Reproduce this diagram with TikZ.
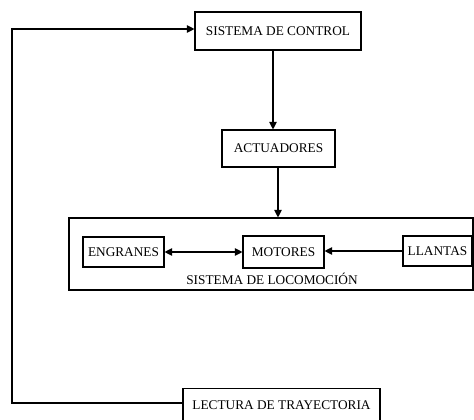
\documentclass[tikz,border=0pt]{standalone}
\usepackage{fontspec}
\setmainfont{Liberation Serif}
\usetikzlibrary{arrows.meta}
\begin{document}
\begin{tikzpicture}[x=1pt,y=-1pt,
  box/.style={draw,line width=1.1pt,inner sep=0pt,font=\fontsize{13.3}{15}\selectfont},
  arr/.style={line width=1.1pt,-{Triangle[length=7.5pt,width=7.5pt]}},
  darr/.style={line width=1.1pt,{Triangle[length=7.5pt,width=7.5pt]}-{Triangle[length=7.5pt,width=7.5pt]}},
  lbl/.style={font=\fontsize{13.3}{15}\selectfont,inner sep=0pt}]
\useasboundingbox (0,0) rectangle (474,420);
\fill[white] (0,0) rectangle (474,420);
\node[box,minimum width=166pt,minimum height=38pt] (ctrl) at (278,31) {SISTEMA DE CONTROL};
\node[box,minimum width=113pt,minimum height=37pt] (act) at (278.5,148.5) {ACTUADORES};
\node[box,minimum width=404pt,minimum height=72pt] (loco) at (271,254) {};
\node[box,minimum width=81pt,minimum height=30pt] (eng) at (123.5,252) {ENGRANES};
\node[box,minimum width=81pt,minimum height=32pt] (mot) at (283.5,252) {MOTORES};
\node[box,minimum width=69pt,minimum height=30pt] (lla) at (437.5,251) {LLANTAS};
\node[lbl] (locolbl) at (272,279) {SISTEMA DE LOCOMOCIÓN};
\node[box,minimum width=197pt,minimum height=36pt,anchor=north] (lect) at (281.5,388) {\raisebox{3pt}{LECTURA DE TRAYECTORIA}};
\coordinate (fb1) at (12,403);
\coordinate (fb2) at (12,29);
\draw[arr] (ctrl.south -| 273,0) -- (act.north -| 273,0);
\draw[arr] (act.south -| 278,0) -- (loco.north -| 278,0);
\draw[darr] (eng.east) -- (mot.west |- eng.east);
\draw[arr] (lla.west) -- (mot.east |- lla.west);
\draw[arr] (lect.west |- fb1) -- (fb1) -- (fb2) -- (ctrl.west |- fb2);
\end{tikzpicture}
\end{document}
